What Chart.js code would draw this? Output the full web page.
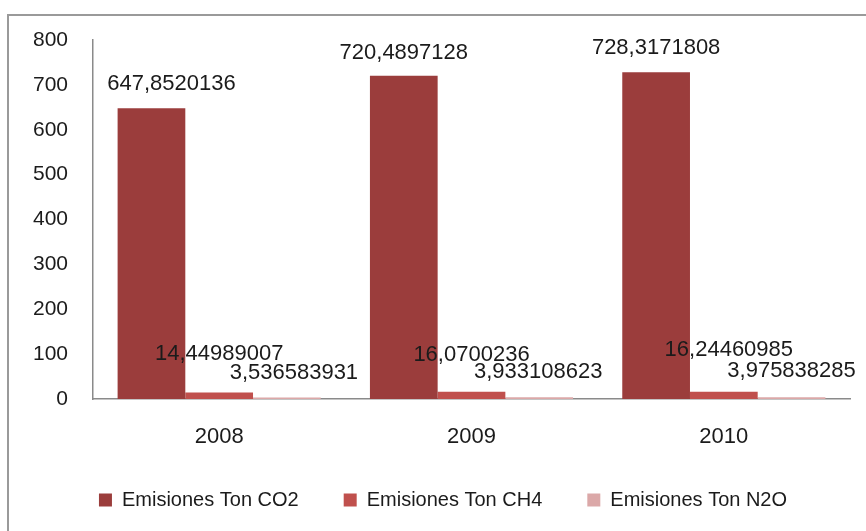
<!DOCTYPE html>
<html>
<head>
<meta charset="utf-8">
<title>Emisiones</title>
<script src="https://cdn.jsdelivr.net/npm/chart.js@4/dist/chart.umd.min.js"></script>
<style>
  html, body { margin: 0; padding: 0; background: #ffffff; }
  canvas { display: block; }
</style>
</head>
<body>
<canvas id="chart" width="866" height="531"></canvas>
<script>
// Years on the category axis
const years = ['2008', '2009', '2010'];

// Emissions per year, in tonnes
const co2 = [647.8520136, 720.4897128, 728.3171808];
const ch4 = [14.44989007, 16.0700236, 16.24460985];
const n2o = [3.536583931, 3.933108623, 3.975838285];

// Series names
const seriesNames = ['Emisiones Ton CO2', 'Emisiones Ton CH4', 'Emisiones Ton N2O'];

// Value axis ticks
const yTicks = [0, 100, 200, 300, 400, 500, 600, 700, 800];

const FONT = '"Liberation Sans", Arial, sans-serif';
const TEXT = '#1b1b1b';

// Value labels above each bar (decimal comma); per-label nudges keep them apart
const labelDx = [[20, 0, 0], [0, 0, 5], [7, -1, 0]];
const labelDy = [[24, 23, 24], [39, 37, 42], [24, 25, 26]];
const valueLabels = {
  id: 'valueLabels',
  afterDatasetsDraw(chart) {
    const ctx = chart.ctx;
    ctx.save();
    ctx.font = '22px ' + FONT;
    ctx.fillStyle = TEXT;
    ctx.textAlign = 'center';
    ctx.textBaseline = 'middle';
    chart.data.datasets.forEach((ds, di) => {
      const meta = chart.getDatasetMeta(di);
      meta.data.forEach((bar, i) => {
        const txt = String(ds.data[i]).replace('.', ',');
        ctx.fillText(txt, bar.x + labelDx[di][i], bar.y - labelDy[di][i]);
      });
    });
    ctx.restore();
  }
};

// Frame around the chart
const frame = {
  id: 'frame',
  beforeDraw(chart) {
    const ctx = chart.ctx;
    ctx.save();
    ctx.strokeStyle = '#9a9a9a';
    ctx.lineWidth = 2;
    ctx.strokeRect(8, 15, chart.width + 20, chart.height + 20);
    ctx.restore();
  }
};

// Nudge the legend row a little to the right of centre
const legendShift = {
  id: 'legendShift',
  afterLayout(chart) {
    const lg = chart.legend;
    if (lg) { lg.left += 8; lg.right += 8; }
  }
};

new Chart(document.getElementById('chart'), {
  type: 'bar',
  data: {
    labels: years,
    datasets: [
      { label: seriesNames[0], data: co2, backgroundColor: '#9b3d3c' },
      { label: seriesNames[1], data: ch4, backgroundColor: '#c0504d' },
      { label: seriesNames[2], data: n2o, backgroundColor: '#dba8a8' }
    ]
  },
  options: {
    responsive: false,
    animation: false,
    events: [],
    layout: { padding: { left: 20, right: 16, top: 40, bottom: 11 } },
    datasets: {
      bar: { categoryPercentage: 0.805, barPercentage: 1.0, borderWidth: 0 }
    },
    scales: {
      x: {
        grid: { display: false, drawTicks: false },
        border: { display: true, color: '#8a8a8a', width: 1.5 },
        ticks: { color: TEXT, font: { family: FONT, size: 22 }, padding: 25 },
        afterFit(scale) { scale.height = 46; }
      },
      y: {
        min: 0,
        max: 800,
        grid: { display: false, drawTicks: false },
        border: { display: true, color: '#8a8a8a', width: 1.5 },
        afterBuildTicks(scale) { scale.ticks = yTicks.map(v => ({ value: v })); },
        ticks: { color: TEXT, font: { family: FONT, size: 21 }, padding: 25 },
        afterFit(scale) { scale.width = 73; }
      }
    },
    plugins: {
      legend: {
        position: 'bottom',
        labels: {
          boxWidth: 13,
          boxHeight: 13,
          padding: 45,
          color: TEXT,
          font: { family: FONT, size: 20 }
        }
      },
      tooltip: { enabled: false }
    }
  },
  plugins: [frame, legendShift, valueLabels]
});
</script>
</body>
</html>
